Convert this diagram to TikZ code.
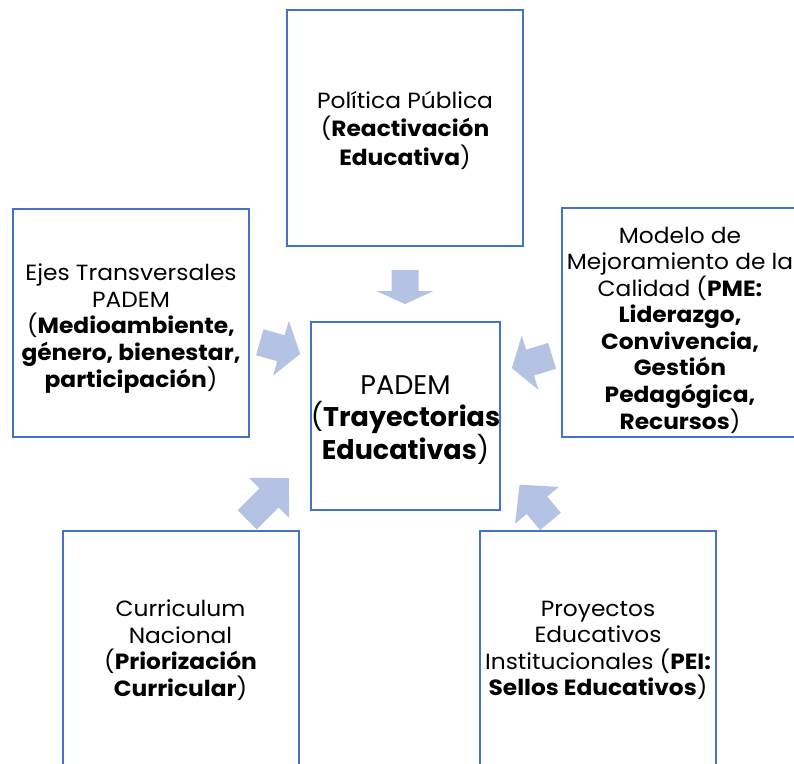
\documentclass[tikz,border=0pt]{standalone}
\usepackage{fontspec}
\setmainfont{Poppins}
\newfontfamily\lateral{Poppins}[FakeStretch=1.06]
\usepackage{tikz}
\usetikzlibrary{calc,positioning}
\definecolor{bordeazul}{RGB}{68,114,196}
\definecolor{flechaazul}{RGB}{180,194,228}
% puntal invisible en la primera linea, para bajar el texto
\newcommand{\puntal}[1]{\rule{0pt}{#1}}
\tikzset{
    caja/.style={
        rectangle,
        draw=bordeazul, line width=2pt,
        fill=white,
        align=center,
        inner sep=0pt,
        minimum width=236pt,
        minimum height=236pt,
        font={\lateral\fontsize{22pt}{26.5pt}\selectfont}
    },
    cajacentro/.style={
        caja,
        minimum width=189pt,
        minimum height=188pt,
        font={\fontsize{27pt}{32.5pt}\selectfont}
    },
    pics/flecha/.style args={#1/#2}{
        code={
            \fill[flechaazul] (-#1/2,13.5) -- (#1/2-#2,13.5) -- (#1/2-#2,28.5)
                -- (#1/2,0) -- (#1/2-#2,-28.5) -- (#1/2-#2,-13.5)
                -- (-#1/2,-13.5) -- cycle;
        }
    },
}

\begin{document}
\begin{tikzpicture}[x=1pt, y=-1pt]

\useasboundingbox (0,0) rectangle (794,763);
\clip (0,0) rectangle (794,763);

% cajas
\node [caja, font={\lateral\fontsize{22pt}{28.5pt}\selectfont}] (politica) at (405,128)
  {\puntal{21.2pt}Política Pública\\(\textbf{Reactivación}\\\textbf{Educativa})};

\node [caja, minimum height=228pt] (ejes) at (131,323)
  {\puntal{28.3pt}Ejes Transversales\\PADEM\\(\textbf{Medioambiente,}\\\textbf{género, bienestar,}\\\textbf{participación})};

\node [caja, minimum height=229pt] (modelo) at (680,322.5)
  {\puntal{32.3pt}Modelo de\\Mejoramiento de la\\Calidad (\textbf{PME:}\\\textbf{Liderazgo,}\\\textbf{Convivencia,}\\\textbf{Gestión}\\\textbf{Pedagógica,}\\\textbf{Recursos})};

\node [caja] (curriculum) at (180.5,649)
  {\puntal{19.3pt}Curriculum\\Nacional\\(\textbf{Priorización}\\\textbf{Curricular})};

\node [caja] (proyectos) at (598,649)
  {\puntal{18.3pt}Proyectos\\Educativos\\Institucionales (\textbf{PEI:}\\\textbf{Sellos Educativos})};

\node [cajacentro] (padem) at (405.5,416)
  {\puntal{26.8pt}PADEM\\(\textbf{Trayectorias}\\\textbf{Educativas})};

% flechas hacia el centro
\coordinate (f-politica) at (405,287);
\coordinate (f-ejes) at (280,348);
\coordinate (f-modelo) at (532,362);
\coordinate (f-curriculum) at (268,499);
\coordinate (f-proyectos) at (535,503);

\pic [rotate=-90] at (f-politica) {flecha=34/13};
\pic [rotate=-16] at (f-ejes) {flecha=42/20};
\pic [rotate=197] at (f-modelo) {flecha=42/19};
\pic [rotate=45] at (f-curriculum) {flecha=59/28};
\pic [rotate=130] at (f-proyectos) {flecha=48/27};

\end{tikzpicture}
\end{document}
